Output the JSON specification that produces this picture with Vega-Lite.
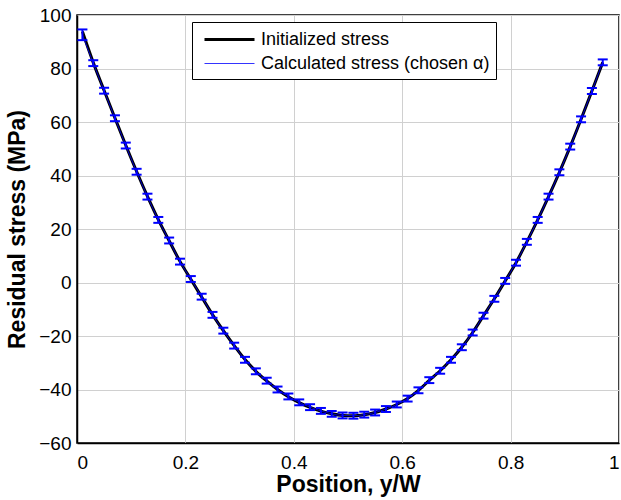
{
  "$schema": "https://vega.github.io/schema/vega-lite/v6.json",
  "autosize": "none",
  "width": 542,
  "height": 428,
  "padding": {"left": 77, "top": 15, "right": 2, "bottom": 57},
  "background": "white",
  "config": {
    "font": "Liberation Sans",
    "view": {"stroke": "black", "strokeWidth": 1.5},
    "axis": {
      "labelFont": "Liberation Sans",
      "labelFontSize": 19,
      "labelColor": "black",
      "titleFont": "Liberation Sans",
      "titleFontSize": 23,
      "titleFontWeight": "bold",
      "titleColor": "black",
      "domainColor": "black",
      "domainWidth": 1.5,
      "ticks": false,
      "gridColor": "#d0d0d0",
      "gridWidth": 1
    },
    "legend": {
      "title": null,
      "orient": "none",
      "legendX": 115,
      "legendY": 7,
      "direction": "vertical",
      "fillColor": "white",
      "strokeColor": "black",
      "padding": 6,
      "symbolType": "M-0.5,0H4.5",
      "symbolSize": 400,
      "labelFontSize": 18,
      "labelFont": "Liberation Sans",
      "labelColor": "black",
      "labelOffset": 40,
      "labelLimit": 400,
      "rowPadding": 4
    }
  },
  "data": {
    "values": [
      {"position": 0.01, "init": 93.8, "calc": 92.6, "lower": 90.6, "upper": 94.6},
      {"position": 0.03, "init": 82.2, "calc": 82.0, "lower": 80.9, "upper": 83.1},
      {"position": 0.05, "init": 71.8, "calc": 71.7, "lower": 70.6, "upper": 72.8},
      {"position": 0.07, "init": 61.5, "calc": 61.4, "lower": 60.3, "upper": 62.5},
      {"position": 0.09, "init": 51.3, "calc": 51.2, "lower": 50.1, "upper": 52.3},
      {"position": 0.11, "init": 41.5, "calc": 41.4, "lower": 40.3, "upper": 42.5},
      {"position": 0.13, "init": 32.2, "calc": 32.1, "lower": 31.0, "upper": 33.2},
      {"position": 0.15, "init": 23.5, "calc": 23.4, "lower": 22.3, "upper": 24.5},
      {"position": 0.17, "init": 15.6, "calc": 15.7, "lower": 14.6, "upper": 16.8},
      {"position": 0.19, "init": 7.9, "calc": 7.8, "lower": 6.7, "upper": 8.9},
      {"position": 0.21, "init": 1.2, "calc": 1.3, "lower": 0.2, "upper": 2.4},
      {"position": 0.23, "init": -5.4, "calc": -5.3, "lower": -6.4, "upper": -4.2},
      {"position": 0.25, "init": -12.0, "calc": -12.1, "lower": -13.2, "upper": -11.0},
      {"position": 0.27, "init": -18.0, "calc": -18.0, "lower": -19.1, "upper": -16.9},
      {"position": 0.29, "init": -23.6, "calc": -23.6, "lower": -24.7, "upper": -22.5},
      {"position": 0.31, "init": -28.8, "calc": -28.9, "lower": -30.0, "upper": -27.8},
      {"position": 0.33, "init": -33.2, "calc": -33.2, "lower": -34.3, "upper": -32.1},
      {"position": 0.35, "init": -36.8, "calc": -36.7, "lower": -37.8, "upper": -35.6},
      {"position": 0.37, "init": -40.0, "calc": -40.0, "lower": -41.1, "upper": -38.9},
      {"position": 0.39, "init": -42.7, "calc": -42.6, "lower": -43.7, "upper": -41.5},
      {"position": 0.41, "init": -44.9, "calc": -44.8, "lower": -45.9, "upper": -43.7},
      {"position": 0.43, "init": -46.7, "calc": -46.6, "lower": -47.7, "upper": -45.5},
      {"position": 0.45, "init": -48.1, "calc": -48.0, "lower": -49.1, "upper": -46.9},
      {"position": 0.47, "init": -49.1, "calc": -49.1, "lower": -50.2, "upper": -48.0},
      {"position": 0.49, "init": -49.7, "calc": -49.7, "lower": -50.8, "upper": -48.6},
      {"position": 0.51, "init": -49.8, "calc": -49.8, "lower": -50.9, "upper": -48.7},
      {"position": 0.53, "init": -49.4, "calc": -49.4, "lower": -50.5, "upper": -48.3},
      {"position": 0.55, "init": -48.6, "calc": -48.6, "lower": -49.7, "upper": -47.5},
      {"position": 0.57, "init": -47.3, "calc": -47.3, "lower": -48.4, "upper": -46.2},
      {"position": 0.59, "init": -45.6, "calc": -45.6, "lower": -46.7, "upper": -44.5},
      {"position": 0.61, "init": -43.4, "calc": -43.4, "lower": -44.5, "upper": -42.3},
      {"position": 0.63, "init": -40.3, "calc": -40.3, "lower": -41.4, "upper": -39.2},
      {"position": 0.65, "init": -36.6, "calc": -36.5, "lower": -37.6, "upper": -35.4},
      {"position": 0.67, "init": -33.0, "calc": -33.0, "lower": -34.1, "upper": -31.9},
      {"position": 0.69, "init": -28.9, "calc": -28.9, "lower": -30.0, "upper": -27.8},
      {"position": 0.71, "init": -24.2, "calc": -24.2, "lower": -25.3, "upper": -23.1},
      {"position": 0.73, "init": -18.7, "calc": -18.7, "lower": -19.8, "upper": -17.6},
      {"position": 0.75, "init": -12.4, "calc": -12.4, "lower": -13.5, "upper": -11.3},
      {"position": 0.77, "init": -6.1, "calc": -6.1, "lower": -7.2, "upper": -5.0},
      {"position": 0.79, "init": 0.6, "calc": 0.6, "lower": -0.5, "upper": 1.7},
      {"position": 0.81, "init": 7.4, "calc": 7.4, "lower": 6.3, "upper": 8.5},
      {"position": 0.83, "init": 15.2, "calc": 15.2, "lower": 14.1, "upper": 16.3},
      {"position": 0.85, "init": 23.4, "calc": 23.4, "lower": 22.3, "upper": 24.5},
      {"position": 0.87, "init": 32.1, "calc": 32.1, "lower": 31.0, "upper": 33.2},
      {"position": 0.89, "init": 41.2, "calc": 41.2, "lower": 40.1, "upper": 42.3},
      {"position": 0.91, "init": 50.8, "calc": 50.8, "lower": 49.7, "upper": 51.9},
      {"position": 0.93, "init": 61.0, "calc": 61.0, "lower": 59.9, "upper": 62.1},
      {"position": 0.95, "init": 71.6, "calc": 71.6, "lower": 70.5, "upper": 72.7},
      {"position": 0.97, "init": 82.3, "calc": 82.3, "lower": 81.2, "upper": 83.4}
    ]
  },
  "layer": [
    {
      "transform": [{"fold": ["init", "calc"], "as": ["series", "value"]}],
      "mark": {"type": "line", "interpolate": "monotone", "clip": true},
      "encoding": {
        "x": {
          "field": "position", "type": "quantitative",
          "scale": {"domain": [0, 1], "nice": false, "zero": false},
          "axis": {"title": "Position, y/W", "values": [0, 0.2, 0.4, 0.6, 0.8, 1], "format": "~g", "labelPadding": 10, "titlePadding": 1, "grid": true}
        },
        "y": {
          "field": "value", "type": "quantitative",
          "scale": {"domain": [-60, 100], "nice": false, "zero": false},
          "axis": {"title": "Residual stress (MPa)", "values": [-60, -40, -20, 0, 20, 40, 60, 80, 100], "labelPadding": 6, "titlePadding": 9, "grid": true}
        },
        "color": {
          "field": "series", "type": "nominal",
          "scale": {"domain": ["init", "calc"], "range": ["black", "blue"]},
          "legend": {
            "labelExpr": "datum.label == 'init' ? 'Initialized stress' : 'Calculated stress (chosen α)'"
          }
        },
        "strokeWidth": {
          "field": "series", "type": "nominal",
          "scale": {"domain": ["init", "calc"], "range": [3, 0.8]},
          "legend": {
            "labelExpr": "datum.label == 'init' ? 'Initialized stress' : 'Calculated stress (chosen α)'"
          }
        },
        "order": {"field": "position", "type": "quantitative"}
      }
    },
    {
      "mark": {"type": "rule", "color": "blue", "strokeWidth": 2},
      "encoding": {
        "x": {"field": "position", "type": "quantitative"},
        "y": {"field": "lower", "type": "quantitative"},
        "y2": {"field": "upper"}
      }
    },
    {
      "mark": {"type": "tick", "orient": "horizontal", "color": "blue", "size": 10, "thickness": 2, "opacity": 1},
      "encoding": {
        "x": {"field": "position", "type": "quantitative"},
        "y": {"field": "lower", "type": "quantitative"}
      }
    },
    {
      "mark": {"type": "tick", "orient": "horizontal", "color": "blue", "size": 10, "thickness": 2, "opacity": 1},
      "encoding": {
        "x": {"field": "position", "type": "quantitative"},
        "y": {"field": "upper", "type": "quantitative"}
      }
    }
  ]
}
